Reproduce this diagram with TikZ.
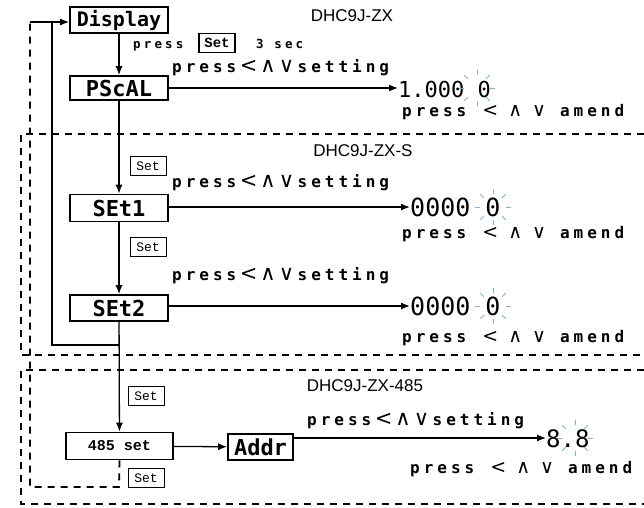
\documentclass[tikz,border=0pt]{standalone}
\usepackage{fontspec}
\setmainfont{Liberation Sans}
\newfontfamily\segfont{DejaVu Sans Mono}
\newfontfamily\pressfont[LetterSpace=25]{DejaVu Sans Mono}
\newfontfamily\symfont{DejaVu Sans}
\newfontfamily\keyfont{Liberation Mono}
\usetikzlibrary{arrows.meta,calc}
\definecolor{raycol}{RGB}{125,175,215}
\tikzset{
  segbox/.style={draw, line width=1.6pt, inner sep=0pt, minimum width=98pt,
    minimum height=26pt, font=\segfont\bfseries\fontsize{22}{22}\selectfont},
  keybox/.style={draw, line width=1pt, inner sep=0pt, minimum width=36pt,
    minimum height=19pt, font=\keyfont\fontsize{13}{13}\selectfont},
  flow/.style={line width=1.3pt, -{Latex[length=9pt,width=7pt]}},
  wire/.style={line width=1.3pt},
  sect/.style={line width=1.8pt, dash pattern=on 7pt off 6pt},
  presstxt/.style={anchor=base west, inner sep=0pt,
    font=\pressfont\bfseries\fontsize{16}{16}\selectfont},
  valtxt/.style={anchor=west, inner sep=0pt, text height=18pt, text depth=0pt,
    font=\segfont\fontsize{25}{25}\selectfont},
  model/.style={inner sep=0pt, font=\fontsize{17}{17}\selectfont}
}
\newcommand{\blink}[1]{% light rays round the flashing digit at (#1)
  \foreach \a in {-135,-90,-45,0,45,90,135,180}
    \draw[raycol, line width=0.8pt] ($(#1)+(\a:13)$) -- ($(#1)+(\a:18)$);
}
% the three arrow keys, thin and large
\newcommand{\keys}{{\symfont\mdseries\fontsize{21}{21}\selectfont
  \,<\hspace{3pt}∧\hspace{3pt}∨\,}}
\newcommand{\keysp}{{\symfont\mdseries\fontsize{19}{19}\selectfont
  \hspace{16pt}<\hspace{10pt}∧\hspace{10pt}∨\hspace{14pt}}}

\begin{document}
\begin{tikzpicture}[x=1pt,y=-1pt]
  \useasboundingbox (0,0) rectangle (644,507);
  % dashed frames of the S and 485 models
  \draw[sect] (644,134) -- (21,134) -- (21,355) -- (644,355);
  \draw[sect] (644,370) -- (21,370) -- (21,504) -- (644,504);

  \node[segbox, font=\segfont\bfseries\fontsize{20}{20}\selectfont] (disp) at (119,20) {Display};
  \node[segbox, minimum height=24pt] (pscal) at (119,88) {PScAL};
  \node[segbox, minimum height=27pt] (set1) at (119,208) {SEt1};
  \node[segbox] (set2) at (119,308) {SEt2};
  \node[segbox, minimum width=107pt, minimum height=27pt,
    font=\keyfont\bfseries\fontsize{15}{15}\selectfont] (rs) at (119.5,446) {485 set};
  \node[segbox, minimum width=65pt] (addr) at (260.5,447) {Addr};

  \node[model] (m1) at (352,16) {DHC9J-ZX};
  \node[model] (m2) at (363,151) {DHC9J-ZX-S};
  \node[model] (m3) at (365,386) {DHC9J-ZX-485};

  \node[presstxt, font=\pressfont\bfseries\fontsize{12.5}{12.5}\selectfont] (p0) at (133,48) {press};
  \node[keybox, line width=1.4pt, font=\keyfont\bfseries\fontsize{14}{14}\selectfont] (k0) at (217,43) {Set};
  \node[presstxt, font=\pressfont\bfseries\fontsize{12.5}{12.5}\selectfont] (sec) at (256,48) {3 sec};

  \node[keybox] (k1) at (148,166) {Set};
  \node[keybox] (k2) at (148,247) {Set};
  \node[keybox] (k3) at (146,396) {Set};
  \node[keybox] (k4) at (146,478) {Set};

  \node[presstxt] (s1) at (172,72) {press\keys setting};
  \node[presstxt] (s2) at (172,187) {press\keys setting};
  \node[presstxt] (s3) at (172,280) {press\keys setting};
  \node[presstxt] (s4) at (307,425) {press\keys setting};

  \node[presstxt] (a1) at (402,116) {press\keysp amend};
  \node[presstxt] (a2) at (402,238) {press\keysp amend};
  \node[presstxt] (a3) at (402,342) {press\keysp amend};
  \node[presstxt] (a4) at (410,473) {press\keysp amend};

  \node[valtxt, font=\segfont\fontsize{22}{22}\selectfont] (v1) at (398,88) {1.000 0};
  \node[valtxt] (v2) at (410,207) {0000 0};
  \node[valtxt] (v3) at (410,306) {0000 0};
  \node[valtxt, font=\segfont\fontsize{24}{24}\selectfont] (v4) at (546,438) {8.8};
  \blink{477,88} \blink{493,207} \blink{493,306} \blink{575,438}

  \draw[flow] (disp) -- (pscal);
  \draw[flow] (pscal) -- (set1);
  \draw[flow] (set1) -- (set2);
  \draw[flow] (set2) -- (rs);
  \draw[flow] (rs) -- (addr);
  \draw[flow] (pscal.east |- v1) -- (v1);
  \draw[flow] (set1.east |- v2) -- (v2);
  \draw[flow] (set2.east |- v3) -- (v3);
  \draw[flow] (addr.east |- v4) -- (v4);

  % way back to Display
  \coordinate (back) at (119,345);
  \coordinate (top) at (30,22);
  \draw[wire] (back) -- (52,345) -- (52,22);
  \draw[flow] (top) -- (top -| disp.west);
  \draw[sect] (rs.south) -- (119,487) -- (30,487) -- (top);
\end{tikzpicture}
\end{document}
